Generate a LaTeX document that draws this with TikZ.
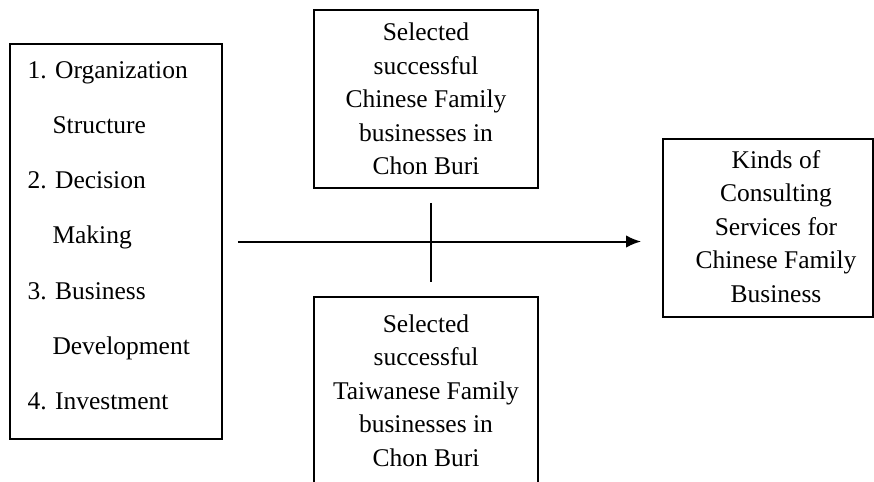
\documentclass[tikz,border=0pt]{standalone}
\usepackage{fontspec}
\setmainfont{Liberation Serif}
\usetikzlibrary{arrows.meta}

\begin{document}
\begin{tikzpicture}[x=0.4pt, y=-0.4pt,
    box/.style={draw, line width=0.75pt, inner sep=0pt},
    txt/.style={font=\fontsize{10.2}{13.4}\selectfont, align=center, inner sep=0pt},
    item/.style={font=\fontsize{10.2}{13.4}\selectfont, anchor=base west, inner sep=0pt},
    arrow/.style={-{Latex[length=6pt, width=5pt]}, line width=0.8pt}]

    \useasboundingbox (0, 0) rectangle (874, 481);
    \clip (0, 0) rectangle (874, 481);

    \node[box, minimum width=84.8pt, minimum height=158pt] (factors) at (116, 241.5) {};
    \foreach \x/\lbl [count=\i] in {27/1. Organization, 52/Structure, 27/2. Decision, 52/Making, 27/3. Business, 52/Development, 27/4. Investment}
        \node[item] (factor\i) at (\x, {78 + 55.3*(\i-1)}) {\lbl};

    \node[box, txt, minimum width=89.6pt, minimum height=71.2pt] (chinese) at (426, 99) {Selected\\successful\\Chinese Family\\businesses in\\Chon Buri};
    \node[box, txt, minimum width=89.6pt, minimum height=74.8pt] (taiwanese) at (426, 390.5) {Selected\\successful\\Taiwanese Family\\businesses in\\Chon Buri};

    \node[box, minimum width=84pt, minimum height=71.2pt] (services) at (768, 228) {};
    \node[txt] (servicesText) at (776, 226.5) {Kinds of\\Consulting\\Services for\\Chinese Family\\Business};

    \draw[arrow, shorten <=6pt, shorten >=8.4pt] (factors.east) -- (factors.east -| services.west);
    \draw[line width=0.8pt, shorten <=5.6pt, shorten >=5.6pt] ([xshift=2pt]chinese.south) -- ([xshift=2pt]taiwanese.north);

\end{tikzpicture}
\end{document}
